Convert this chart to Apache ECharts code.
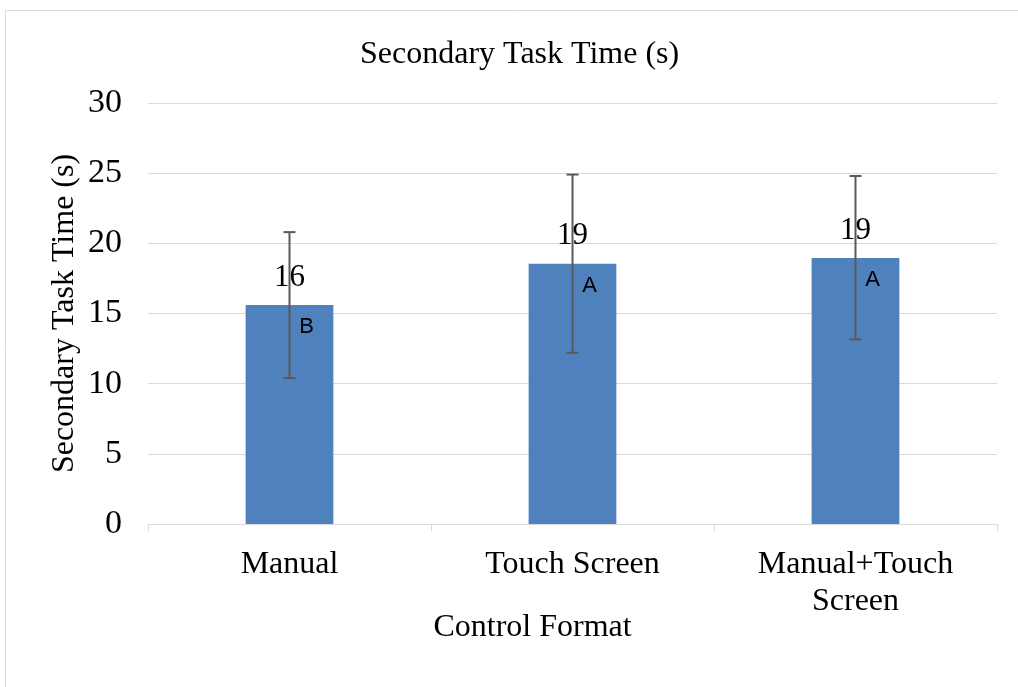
<!DOCTYPE html>
<html>
<head>
<meta charset="utf-8">
<script src="https://cdn.jsdelivr.net/npm/echarts@6/dist/echarts.min.js"></script>
<style>
  html, body { margin: 0; padding: 0; background: #fff; }
  #chart { width: 1018px; height: 687px; }
</style>
</head>
<body>
<div id="chart"></div>
<script>
// Secondary task time by control format, with SD error bars and grouping letters
const categories = ['Manual', 'Touch Screen', 'Manual+Touch\nScreen'];
const means = [15.6, 18.55, 18.95];
const errLow = [10.4, 12.2, 13.15];
const errHigh = [20.8, 24.9, 24.8];
const valueLabels = ['16', '19', '19'];
const groupLetters = ['B', 'A', 'A'];
const yTicks = [0, 5, 10, 15, 20, 25, 30];

const serif = '"Liberation Serif", "Times New Roman", serif';
const sans = '"Liberation Sans", Arial, sans-serif';

const chart = echarts.init(document.getElementById('chart'));

chart.setOption({
  animation: false,
  title: {
    text: 'Secondary Task Time (s)',
    left: 355,
    top: 34,
    textStyle: { fontFamily: serif, fontSize: 32, fontWeight: 'normal', color: '#000' },
  },
  graphic: [{
    type: 'rect',
    shape: { x: 5.5, y: 10.5, width: 1030, height: 700 },
    style: { fill: 'none', stroke: '#d9d9d9', lineWidth: 1 },
    silent: true,
  }],
  grid: { left: 148, right: 21, top: 103, bottom: 163 },
  xAxis: {
    type: 'category',
    data: categories,
    axisLine: { lineStyle: { color: '#d9d9d9', width: 1 } },
    axisTick: { show: true, length: 7, lineStyle: { color: '#d9d9d9' } },
    axisLabel: { fontFamily: serif, fontSize: 32, color: '#000', margin: 22, lineHeight: 37 },
    name: 'Control Format',
    nameLocation: 'middle',
    nameGap: 88,
    nameMoveOverlap: false,
    nameTextStyle: { fontFamily: serif, fontSize: 32, color: '#000', padding: [0, 80, 0, 0] },
  },
  yAxis: {
    type: 'value',
    min: 0,
    max: 30,
    interval: 5,
    axisLine: { show: false },
    axisTick: { show: false },
    splitLine: { lineStyle: { color: '#d9d9d9', width: 1 } },
    axisLabel: {
      fontFamily: serif, fontSize: 34, color: '#000', margin: 26,
      formatter: v => yTicks.includes(v) ? String(v) : '',
    },
    name: 'Secondary Task Time (s)',
    nameLocation: 'middle',
    nameGap: 67,
    nameMoveOverlap: false,
    nameTextStyle: { fontFamily: serif, fontSize: 32, color: '#000' },
  },
  series: [
    {
      type: 'bar',
      data: means,
      barWidth: '31%',
      itemStyle: { color: '#4f81bd' },
      label: {
        show: true,
        position: 'top',
        distance: 12,
        fontFamily: serif,
        fontSize: 31,
        color: '#000',
        formatter: p => valueLabels[p.dataIndex],
      },
      z: 2,
    },
    {
      type: 'custom',
      data: means.map((m, i) => [i, errLow[i], errHigh[i], m]),
      renderItem: (params, api) => {
        const i = api.value(0);
        const lo = api.coord([i, api.value(1)]);
        const hi = api.coord([i, api.value(2)]);
        const top = api.coord([i, api.value(3)]);
        const cap = 6;
        const style = { stroke: '#595959', lineWidth: 2 };
        return {
          type: 'group',
          children: [
            { type: 'line', shape: { x1: lo[0], y1: lo[1], x2: hi[0], y2: hi[1] }, style },
            { type: 'line', shape: { x1: hi[0] - cap, y1: hi[1], x2: hi[0] + cap, y2: hi[1] }, style },
            { type: 'line', shape: { x1: lo[0] - cap, y1: lo[1], x2: lo[0] + cap, y2: lo[1] }, style },
            {
              type: 'text',
              style: {
                text: groupLetters[params.dataIndex],
                x: top[0] + 17,
                y: top[1] + 22,
                align: 'center',
                verticalAlign: 'middle',
                font: '22px ' + sans,
                fill: '#000',
              },
            },
          ],
        };
      },
      z: 3,
    },
  ],
});
</script>
</body>
</html>
